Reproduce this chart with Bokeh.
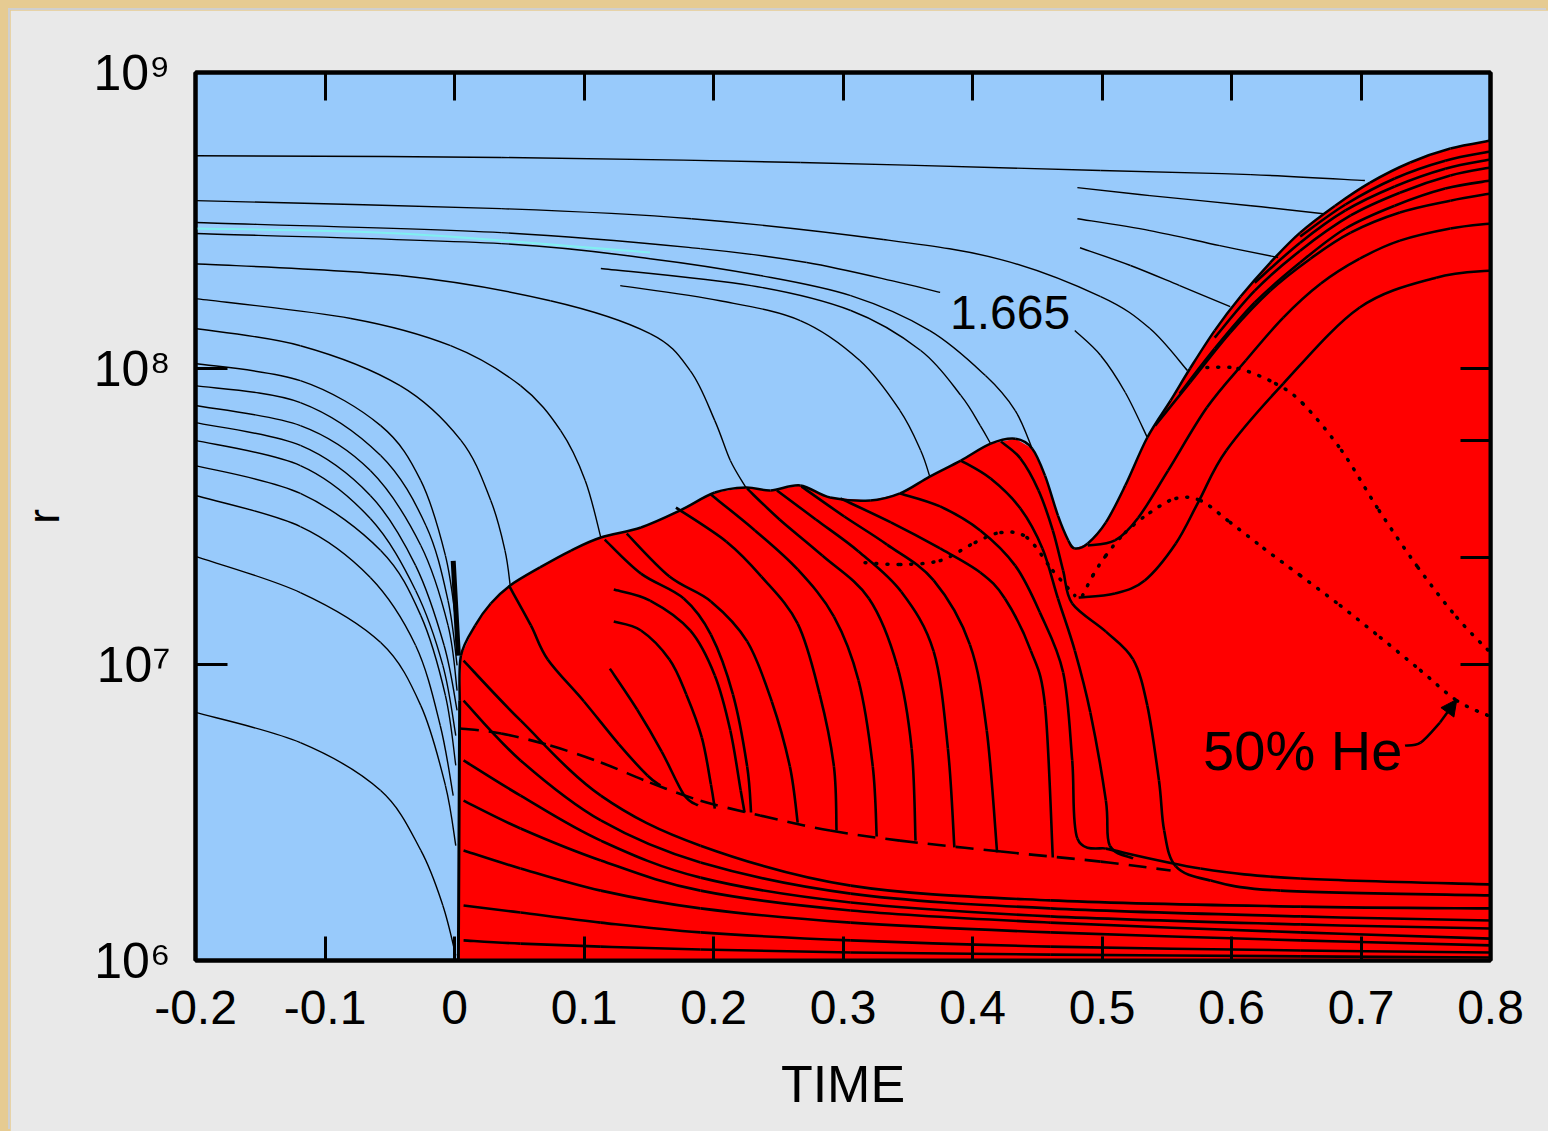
from bokeh.plotting import figure
from bokeh.layouts import column
from bokeh.models import FixedTicker, LinearAxis, LogAxis, Arrow, NormalHead, CustomJSTickFormatter
from bokeh.core.properties import value
from bokeh.embed import file_html
from bokeh.resources import INLINE

# ---------------- data (time, log10 r) ----------------
x_ticks = [-0.2, -0.1, 0.0, 0.1, 0.2, 0.3, 0.4, 0.5, 0.6, 0.7, 0.8]
x_tick_labels = ["-0.2", "-0.1", "0", "0.1", "0.2", "0.3", "0.4", "0.5", "0.6", "0.7", "0.8"]
top_ticks = [-0.1, 0.0, 0.1, 0.2, 0.3, 0.4, 0.5, 0.6, 0.7]
y_ticks = [1e6, 1e7, 1e8, 1e9]
y_tick_labels = ["10⁶", "10⁷", "10⁸", "10⁹"]
right_ticks = [1e7, 2.3e7, 5.7e7, 1e8]

# red (convective) region outline
red_region = [(0.003, 6.0), (0.004, 6.878), (0.005, 7.030), (0.016, 7.132), (0.028, 7.206),
              (0.043, 7.267), (0.066, 7.328), (0.090, 7.385), (0.113, 7.429), (0.144, 7.463),
              (0.174, 7.520), (0.201, 7.581), (0.225, 7.598), (0.244, 7.588), (0.267, 7.605),
              (0.290, 7.564), (0.321, 7.554), (0.344, 7.578), (0.367, 7.635), (0.391, 7.689),
              (0.414, 7.746), (0.433, 7.763), (0.446, 7.730), (0.456, 7.638), (0.466, 7.503),
              (0.474, 7.419), (0.479, 7.392), (0.489, 7.409), (0.503, 7.480), (0.518, 7.605),
              (0.535, 7.767), (0.553, 7.892), (0.568, 8.000), (0.587, 8.128), (0.607, 8.243),
              (0.630, 8.358), (0.653, 8.459), (0.680, 8.550), (0.707, 8.628), (0.738, 8.696),
              (0.769, 8.743), (0.800, 8.770), (0.800, 6.0)]

# mass shells in the blue (radiative) region
blue_1 = [(-0.200, 8.719), (0.036, 8.713), (0.267, 8.696), (0.499, 8.669), (0.615, 8.655), (0.703, 8.635)]
blue_2 = [(-0.200, 8.567), (0.036, 8.540), (0.183, 8.506), (0.331, 8.436), (0.422, 8.368), (0.499, 8.243), (0.537, 8.135), (0.566, 7.993)]
blue_3a = [(-0.200, 8.493), (0.036, 8.459), (0.190, 8.405), (0.272, 8.358), (0.344, 8.290), (0.375, 8.257)]
blue_3b = [(0.479, 8.128), (0.499, 8.044), (0.518, 7.919), (0.535, 7.767)]
blue_4 = [(-0.200, 8.456), (0.036, 8.422), (0.151, 8.371), (0.236, 8.314), (0.306, 8.246), (0.367, 8.128), (0.410, 7.976), (0.433, 7.858), (0.446, 7.730)]
blue_cyan = [(-0.200, 8.473), (-0.042, 8.456), (0.151, 8.392)]
blue_6 = [(0.113, 8.338), (0.229, 8.280), (0.306, 8.196), (0.360, 8.061), (0.391, 7.909), (0.406, 7.807), (0.414, 7.746)]
blue_7 = [(0.128, 8.280), (0.205, 8.229), (0.267, 8.162), (0.313, 8.027), (0.344, 7.858), (0.360, 7.723), (0.367, 7.635)]
blue_8 = [(-0.200, 8.354), (-0.042, 8.314), (0.074, 8.229), (0.151, 8.118), (0.182, 7.993), (0.201, 7.824), (0.213, 7.689), (0.225, 7.598)]
blue_9 = [(-0.200, 8.236), (-0.080, 8.169), (-0.003, 8.077), (0.051, 7.942), (0.082, 7.790), (0.101, 7.621), (0.113, 7.429)]
blue_10 = [(-0.200, 8.135), (-0.119, 8.077), (-0.042, 7.942), (0.005, 7.757), (0.028, 7.554), (0.039, 7.385), (0.043, 7.267)]
blue_c1 = [(-0.200, 8.017), (-0.119, 7.959), (-0.057, 7.807), (-0.026, 7.621), (-0.007, 7.368), (0.001, 7.149)]
blue_c2 = [(-0.200, 7.942), (-0.119, 7.885), (-0.057, 7.706), (-0.022, 7.469), (-0.005, 7.216), (0.002, 6.997)]
blue_c3 = [(-0.200, 7.875), (-0.119, 7.807), (-0.065, 7.655), (-0.026, 7.402), (-0.005, 7.132), (0.002, 6.912)]
blue_c4 = [(-0.200, 7.817), (-0.119, 7.740), (-0.065, 7.571), (-0.030, 7.334), (-0.008, 7.064), (0.002, 6.845)]
blue_c5 = [(-0.200, 7.757), (-0.119, 7.672), (-0.065, 7.493), (-0.030, 7.250), (-0.009, 6.997), (0.001, 6.760)]
blue_c6 = [(-0.200, 7.672), (-0.119, 7.578), (-0.057, 7.385), (-0.026, 7.165), (-0.007, 6.895), (0.001, 6.659)]
blue_c7 = [(-0.200, 7.571), (-0.119, 7.466), (-0.065, 7.294), (-0.030, 7.064), (-0.011, 6.794), (-0.001, 6.557)]
blue_c8 = [(-0.200, 7.365), (-0.119, 7.243), (-0.057, 7.074), (-0.026, 6.861), (-0.007, 6.591), (0.001, 6.388)]
blue_c9 = [(-0.200, 6.838), (-0.119, 6.736), (-0.057, 6.574), (-0.026, 6.372), (-0.009, 6.186), (0.001, 6.017)]
blue_s1 = [(0.481, 8.611), (0.537, 8.584), (0.615, 8.550), (0.671, 8.523)]
blue_s2 = [(0.481, 8.506), (0.537, 8.466), (0.591, 8.415), (0.636, 8.375)]
blue_s3 = [(0.483, 8.408), (0.522, 8.348), (0.560, 8.280), (0.599, 8.209)]
core_mark = [(-0.001, 7.350), (0.003, 7.030)]

# mass shells inside the red region
wave_0 = [(0.042, 7.267), (0.059, 7.132), (0.072, 7.017), (0.100, 6.875), (0.127, 6.730), (0.149, 6.625), (0.159, 6.591)]
wave_1 = [(0.116, 7.422), (0.144, 7.307), (0.177, 7.223), (0.198, 7.101), (0.215, 6.899), (0.226, 6.655), (0.229, 6.500)]
wave_2 = [(0.133, 7.442), (0.166, 7.297), (0.198, 7.213), (0.226, 7.078), (0.245, 6.875), (0.259, 6.655), (0.265, 6.466)]
wave_3 = [(0.171, 7.530), (0.210, 7.415), (0.237, 7.297), (0.265, 7.138), (0.282, 6.899), (0.293, 6.655), (0.295, 6.439)]
wave_4 = [(0.198, 7.574), (0.232, 7.453), (0.265, 7.321), (0.293, 7.162), (0.312, 6.946), (0.323, 6.655), (0.326, 6.419)]
wave_5 = [(0.226, 7.594), (0.251, 7.490), (0.284, 7.368), (0.320, 7.223), (0.342, 6.993), (0.353, 6.716), (0.356, 6.405)]
wave_6 = [(0.249, 7.588), (0.279, 7.490), (0.312, 7.382), (0.345, 7.246), (0.370, 7.044), (0.381, 6.716), (0.386, 6.382)]
wave_7 = [(0.268, 7.601), (0.301, 7.500), (0.334, 7.405), (0.370, 7.284), (0.398, 7.067), (0.411, 6.777), (0.419, 6.365)]
wave_8 = [(0.298, 7.561), (0.337, 7.480), (0.375, 7.392), (0.406, 7.311), (0.425, 7.223), (0.445, 7.047), (0.456, 6.861), (0.462, 6.348)]
wave_9 = [(0.344, 7.578), (0.375, 7.534), (0.406, 7.453), (0.433, 7.334), (0.452, 7.176), (0.470, 6.973), (0.477, 6.676), (0.481, 6.412), (0.503, 6.378)]
wave_10 = [(0.391, 7.689), (0.414, 7.628), (0.437, 7.527), (0.454, 7.392), (0.466, 7.223), (0.479, 7.047), (0.491, 6.838), (0.503, 6.540), (0.506, 6.388), (0.524, 6.345)]
wave_11 = [(0.422, 7.753), (0.437, 7.696), (0.451, 7.588), (0.462, 7.453), (0.470, 7.317), (0.477, 7.206), (0.503, 7.111), (0.524, 7.017), (0.535, 6.861), (0.544, 6.608), (0.548, 6.439), (0.557, 6.318), (0.584, 6.270), (0.638, 6.236), (0.800, 6.220)]
inner_1 = [(0.123, 7.253), (0.151, 7.216), (0.182, 7.115), (0.201, 6.963), (0.213, 6.777), (0.221, 6.574), (0.224, 6.500)]
inner_2 = [(0.123, 7.145), (0.144, 7.115), (0.166, 7.017), (0.179, 6.899), (0.191, 6.753), (0.198, 6.595), (0.201, 6.513)]
inner_3 = [(0.120, 6.986), (0.141, 6.848), (0.160, 6.706), (0.177, 6.561), (0.188, 6.524)]
tail_1 = [(0.503, 6.378), (0.576, 6.311), (0.653, 6.277), (0.800, 6.257)]

fan_t = [0.007, 0.051, 0.113, 0.190, 0.306, 0.460, 0.653, 0.800]
fan_1 = [7.013, 6.811, 6.557, 6.388, 6.253, 6.203, 6.182, 6.176]
fan_2 = [6.878, 6.676, 6.473, 6.331, 6.226, 6.176, 6.149, 6.135]
fan_3 = [6.676, 6.557, 6.405, 6.280, 6.196, 6.149, 6.122, 6.108]
fan_4 = [6.540, 6.446, 6.338, 6.236, 6.169, 6.128, 6.095, 6.074]
fan_5 = [6.372, 6.311, 6.236, 6.176, 6.128, 6.095, 6.068, 6.051]
fan_6 = [6.186, 6.162, 6.128, 6.095, 6.068, 6.047, 6.034, 6.027]
fan_7 = [6.068, 6.057, 6.047, 6.037, 6.027, 6.020, 6.014, 6.010]

arc_1 = [(0.489, 7.402), (0.510, 7.419), (0.528, 7.496), (0.551, 7.655), (0.581, 7.868), (0.611, 8.027), (0.640, 8.172), (0.669, 8.287), (0.699, 8.371), (0.730, 8.432), (0.769, 8.473), (0.800, 8.490)]
arc_2 = [(0.541, 7.807), (0.568, 7.953), (0.599, 8.121), (0.630, 8.263), (0.661, 8.371), (0.692, 8.459), (0.730, 8.527), (0.769, 8.567), (0.800, 8.591)]
arc_3 = [(0.560, 7.915), (0.587, 8.067), (0.618, 8.223), (0.653, 8.358), (0.688, 8.473), (0.726, 8.550), (0.765, 8.608), (0.800, 8.635)]
arc_4 = [(0.587, 8.104), (0.618, 8.263), (0.653, 8.398), (0.692, 8.517), (0.730, 8.594), (0.769, 8.652), (0.800, 8.679)]
arc_5 = [(0.618, 8.290), (0.653, 8.425), (0.688, 8.534), (0.726, 8.615), (0.765, 8.675), (0.800, 8.706)]
arc_6 = [(0.653, 8.446), (0.688, 8.554), (0.726, 8.642), (0.765, 8.702), (0.800, 8.733)]
arc_big = [(0.482, 7.226), (0.510, 7.240), (0.533, 7.284), (0.557, 7.409), (0.575, 7.554), (0.596, 7.723), (0.640, 7.949), (0.699, 8.206), (0.758, 8.307), (0.800, 8.331)]

dashed_shell = [(0.005, 6.784), (0.036, 6.767), (0.074, 6.726), (0.113, 6.669), (0.151, 6.601), (0.190, 6.540), (0.236, 6.490), (0.290, 6.439), (0.344, 6.405), (0.422, 6.368), (0.499, 6.334), (0.553, 6.304)]

dotted_1 = [(0.317, 7.344), (0.344, 7.338), (0.375, 7.351), (0.402, 7.412), (0.422, 7.446), (0.442, 7.429), (0.462, 7.317), (0.479, 7.233)]
dotted_2 = [(0.485, 7.233), (0.493, 7.301), (0.503, 7.368), (0.518, 7.446), (0.537, 7.513), (0.557, 7.561), (0.576, 7.554), (0.599, 7.480), (0.625, 7.392), (0.653, 7.301), (0.684, 7.199), (0.715, 7.091), (0.746, 6.980), (0.774, 6.878), (0.800, 6.824)]
dotted_3 = [(0.581, 8.003), (0.605, 8.000), (0.634, 7.949), (0.655, 7.882), (0.685, 7.723), (0.714, 7.520), (0.744, 7.328), (0.774, 7.159), (0.800, 7.040)]

label_1665 = (0.429, 8.189)
label_he = (0.655, 6.709)
he_pointer = [(0.734, 6.726), (0.746, 6.736), (0.761, 6.804)]
he_arrow_tip = (0.774, 6.882)

# ---------------- styling ----------------
BLUE = "#98cafb"
RED = "#ff0000"
PANEL = "#e9e9e9"
TAN = "#e6cb92"
FONT = "Liberation Sans"


def bezier_parts(curves):
    """Smooth path through the read points (Catmull-Rom drawn as cubic Bezier pieces)."""
    out = {k: [] for k in ("x0", "y0", "x1", "y1", "cx0", "cy0", "cx1", "cy1")}
    for c in curves:
        n = len(c)
        for i in range(n - 1):
            p0 = c[i - 1] if i > 0 else c[i]
            p1, p2 = c[i], c[i + 1]
            p3 = c[i + 2] if i + 2 < n else c[i + 1]
            out["x0"].append(p1[0]); out["y0"].append(10 ** p1[1])
            out["x1"].append(p2[0]); out["y1"].append(10 ** p2[1])
            out["cx0"].append(p1[0] + (p2[0] - p0[0]) / 6)
            out["cy0"].append(10 ** (p1[1] + (p2[1] - p0[1]) / 6))
            out["cx1"].append(p2[0] - (p3[0] - p1[0]) / 6)
            out["cy1"].append(10 ** (p2[1] - (p3[1] - p1[1]) / 6))
    return out


def draw(curves, **kw):
    p.bezier(**bezier_parts(curves), **kw)


p = figure(width=1538, height=1121, x_range=(-0.2, 0.8), y_range=(1e6, 1e9),
           y_axis_type="log", output_backend="svg", toolbar_location=None,
           min_border_left=185, min_border_right=58, min_border_top=62, min_border_bottom=171,
           background_fill_color=BLUE, border_fill_color=PANEL,
           outline_line_color="black", outline_line_width=4)
p.margin = (10, 0, 0, 10)
p.styles = {"box-shadow": "-2px -2px 0px 0px #cfcfcf"}
p.grid.visible = False

# bottom axis
xa = p.xaxis[0]
xa.ticker = FixedTicker(ticks=x_ticks)
xa.major_label_overrides = dict(zip(x_ticks, x_tick_labels))
xa.major_tick_in = 24
xa.major_tick_out = 0
xa.major_tick_line_width = 3
xa.minor_tick_line_color = None
xa.axis_line_width = 4
xa.major_label_text_font = FONT
xa.major_label_text_font_size = "48px"
xa.major_label_text_color = "black"
xa.major_label_standoff = 30
xa.axis_label = "TIME"
xa.axis_label_text_font = FONT
xa.axis_label_text_font_size = "52px"
xa.axis_label_text_font_style = "normal"
xa.axis_label_text_color = "black"
xa.axis_label_standoff = 28

# left axis
ya = p.yaxis[0]
ya.ticker = FixedTicker(ticks=y_ticks)
ya.major_label_overrides = dict(zip(y_ticks, y_tick_labels))
ya.major_tick_in = 32
ya.major_tick_out = 0
ya.major_tick_line_width = 3
ya.minor_tick_line_color = None
ya.axis_line_width = 4
ya.major_label_text_font = FONT
ya.major_label_text_font_size = "50px"
ya.major_label_text_color = "black"
ya.major_label_standoff = 25
ya.axis_label = "r"
ya.axis_label_text_font = FONT
ya.axis_label_text_font_size = "44px"
ya.axis_label_text_font_style = "normal"
ya.axis_label_text_color = "black"
ya.axis_label_standoff = 22

blank = CustomJSTickFormatter(code="return ''")
top = LinearAxis(ticker=FixedTicker(ticks=top_ticks), formatter=blank,
                 major_tick_in=28, major_tick_out=0, major_tick_line_width=3,
                 minor_tick_line_color=None, axis_line_width=4, major_label_standoff=0)
p.add_layout(top, "above")
right = LogAxis(ticker=FixedTicker(ticks=right_ticks), formatter=CustomJSTickFormatter(code="return ''"),
                major_tick_in=30, major_tick_out=0, major_tick_line_width=3,
                minor_tick_line_color=None, axis_line_width=4, major_label_standoff=0)
p.add_layout(right, "right")

# red region
p.patch([pt[0] for pt in red_region], [10 ** pt[1] for pt in red_region],
        fill_color=RED, line_color=None)
draw([red_region[1:-1]], line_color="black", line_width=2.5)

# thin shells in blue region
blue_curves = [blue_1, blue_2, blue_3a, blue_3b, blue_4, blue_6, blue_7, blue_8, blue_9, blue_10,
               blue_c1, blue_c2, blue_c3, blue_c4, blue_c5, blue_c6, blue_c7, blue_c8, blue_c9,
               blue_s1, blue_s2, blue_s3]
draw(blue_curves, line_color="black", line_width=1.4)
draw([blue_cyan], line_color="#7ff0f0", line_width=2)
draw([core_mark], line_color="black", line_width=5)
draw([[red_region[0], red_region[1]]], line_color="black", line_width=3)

# thick shells in red region
red_curves = [wave_0, wave_1, wave_2, wave_3, wave_4, wave_5, wave_6, wave_7, wave_8, wave_9,
              wave_10, wave_11, inner_1, inner_2, inner_3, tail_1,
              arc_1, arc_2, arc_3, arc_4, arc_5, arc_6, arc_big]
draw(red_curves, line_color="black", line_width=2.6)
fans = [fan_1, fan_2, fan_3, fan_4, fan_5, fan_6, fan_7]
draw([list(zip(fan_t, f)) for f in fans], line_color="black", line_width=2.6)

# dashed shell
draw([dashed_shell], line_color="black", line_width=2.6, line_dash="18 10")

# dotted (50% He) lines
draw([dotted_1, dotted_2, dotted_3], line_color="black", line_width=3.5,
     line_dash="1 10", line_cap="round")

# annotations
p.text(x=[label_1665[0]], y=[10 ** label_1665[1]], text=["1.665"],
       text_font=value(FONT), text_font_size=value("48px"),
       text_align="center", text_baseline="middle", text_color="black")
p.text(x=[label_he[0]], y=[10 ** label_he[1]], text=["50% He"],
       text_font=value(FONT), text_font_size=value("56px"),
       text_align="center", text_baseline="middle", text_color="black")
draw([he_pointer], line_color="black", line_width=2.5)
p.add_layout(Arrow(end=NormalHead(size=16, fill_color="black", line_color="black"),
                   x_start=he_pointer[-1][0], y_start=10 ** he_pointer[-1][1],
                   x_end=he_arrow_tip[0], y_end=10 ** he_arrow_tip[1],
                   line_color="black", line_width=2.5))

layout = column(p, styles={"background-color": TAN})

open("out.html", "w").write(file_html(layout, INLINE))
